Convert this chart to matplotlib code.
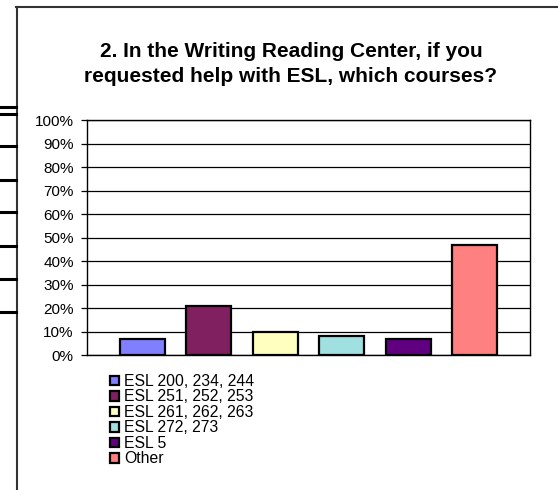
import matplotlib
matplotlib.use("Agg")
import matplotlib.pyplot as plt
from matplotlib.patches import Patch
from matplotlib.lines import Line2D
from matplotlib.ticker import PercentFormatter

plt.rcParams['font.family'] = ['Liberation Sans', 'DejaVu Sans']

title = '2. In the Writing Reading Center, if you\nrequested help with ESL, which courses?'
courses = ['ESL 200, 234, 244', 'ESL 251, 252, 253', 'ESL 261, 262, 263',
           'ESL 272, 273', 'ESL 5', 'Other']
shares = [7, 21, 10, 8, 7, 47]
colors = ['#8080FF', '#802060', '#FFFFC0', '#A0E0E0', '#600080', '#FF8080']

W, H = 558, 490
fig = plt.figure(figsize=(W / 100, H / 100), dpi=100)

# chart-area frame and spreadsheet lines showing on the left
fig.add_artist(Line2D([16.5 / W, 16.5 / W], [0, 1 - 7 / H], color='#333333', lw=1.5))
fig.add_artist(Line2D([16 / W, 1], [1 - 7.5 / H, 1 - 7.5 / H], color='#333333', lw=1.5))
for yy in [107, 114, 146, 180, 212, 246, 279, 312]:
    fig.add_artist(Line2D([0, 16 / W], [1 - yy / H, 1 - yy / H], color='black', lw=2.2))

ax = fig.add_axes([87 / W, 1 - 355 / H, 443 / W, 235 / H])
ax.set_axisbelow(True)
ax.yaxis.grid(True, color='black', lw=0.9)
for i, (v, c) in enumerate(zip(shares, colors)):
    ax.bar(i, v, width=0.68, color=c, edgecolor='black', lw=1.6, label=courses[i])

ax.set_xlim(-0.835, 5.835)
ax.set_ylim(0, 100)
ax.set_yticks(range(0, 101, 10))
ax.yaxis.set_major_formatter(PercentFormatter(decimals=0))
ax.set_xticks([])
ax.tick_params(axis='y', direction='out', length=4, width=0.9, labelsize=11, pad=5.5)
for s in ax.spines.values():
    s.set_color('black')
    s.set_linewidth(1.0)

fig.text(291 / W, 1 - 64 / H, title, ha='center', va='center', fontsize=15,
         fontweight='bold', linespacing=1.4)

handles = [Patch(facecolor=c, edgecolor='black', lw=1.6) for c in colors]
fig.legend(handles, courses, loc='upper left', bbox_to_anchor=(110 / W, 1 - 374 / H),
           frameon=False, fontsize=11.3, handlelength=0.55, handleheight=0.55,
           handletextpad=0.35, labelspacing=0.03, borderpad=0, borderaxespad=0)

fig.savefig('out.png', dpi=100)
